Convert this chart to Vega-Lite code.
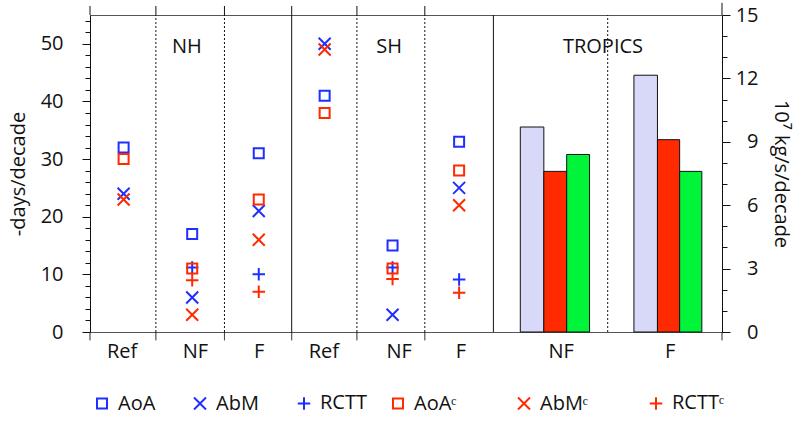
{
  "$schema": "https://vega.github.io/schema/vega-lite/v6.json",
  "width": 632,
  "height": 317,
  "autosize": "none",
  "padding": {"left": 90, "top": 15, "right": 73, "bottom": 89},
  "config": {
    "font": "Open Sans",
    "view": {"stroke": "#555", "strokeWidth": 1},
    "axis": {"domainColor": "#111", "tickColor": "#111", "labelColor": "#111", "titleColor": "#111", "labelFontSize": 20, "titleFontSize": 20, "titleFontWeight": "normal", "grid": false, "labelFont": "Open Sans", "titleFont": "Open Sans"},
    "legend": {"labelFont": "Open Sans"}
  },
  "datasets": {
    "pts": [
      {"g": 0.5, "v": 32, "s": "AoA"},
      {"g": 0.5, "v": 30, "s": "AoAᶜ"},
      {"g": 0.5, "v": 24, "s": "AbM"},
      {"g": 0.5, "v": 23, "s": "AbMᶜ"},
      {"g": 1.52, "v": 17, "s": "AoA"},
      {"g": 1.52, "v": 11, "s": "AoAᶜ"},
      {"g": 1.52, "v": 11.2, "s": "RCTT"},
      {"g": 1.52, "v": 9, "s": "RCTTᶜ"},
      {"g": 1.52, "v": 6, "s": "AbM"},
      {"g": 1.52, "v": 3, "s": "AbMᶜ"},
      {"g": 2.51, "v": 31, "s": "AoA"},
      {"g": 2.51, "v": 23, "s": "AoAᶜ"},
      {"g": 2.51, "v": 21, "s": "AbM"},
      {"g": 2.51, "v": 16, "s": "AbMᶜ"},
      {"g": 2.51, "v": 10, "s": "RCTT"},
      {"g": 2.51, "v": 7, "s": "RCTTᶜ"},
      {"g": 3.49, "v": 50, "s": "AbM"},
      {"g": 3.49, "v": 49, "s": "AbMᶜ"},
      {"g": 3.49, "v": 41, "s": "AoA"},
      {"g": 3.49, "v": 38, "s": "AoAᶜ"},
      {"g": 4.5, "v": 15, "s": "AoA"},
      {"g": 4.5, "v": 11, "s": "AoAᶜ"},
      {"g": 4.5, "v": 11.2, "s": "RCTT"},
      {"g": 4.5, "v": 9.2, "s": "RCTTᶜ"},
      {"g": 4.5, "v": 3, "s": "AbM"},
      {"g": 5.49, "v": 33, "s": "AoA"},
      {"g": 5.49, "v": 28, "s": "AoAᶜ"},
      {"g": 5.49, "v": 25, "s": "AbM"},
      {"g": 5.49, "v": 22, "s": "AbMᶜ"},
      {"g": 5.49, "v": 9.1, "s": "RCTT"},
      {"g": 5.49, "v": 6.8, "s": "RCTTᶜ"}
    ],
    "bars": [
      {"x0": 6.40, "x1": 6.75, "v": 9.70, "k": "1"},
      {"x0": 6.75, "x1": 7.09, "v": 7.60, "k": "2"},
      {"x0": 7.09, "x1": 7.43, "v": 8.40, "k": "3"},
      {"x0": 8.09, "x1": 8.44, "v": 12.15, "k": "1"},
      {"x0": 8.44, "x1": 8.77, "v": 9.10, "k": "2"},
      {"x0": 8.77, "x1": 9.10, "v": 7.60, "k": "3"}
    ],
    "lines": [
      {"x": 0.98, "y0": 0, "y1": 55, "ls": "dot"},
      {"x": 2.0, "y0": 0, "y1": 55, "ls": "dot"},
      {"x": 3.0, "y0": 0, "y1": 55, "ls": "solid"},
      {"x": 3.97, "y0": 0, "y1": 55, "ls": "dot"},
      {"x": 4.98, "y0": 0, "y1": 55, "ls": "dot"},
      {"x": 6.0, "y0": 0, "y1": 55, "ls": "solid"},
      {"x": 7.7, "y0": 0, "y1": 55, "ls": "dot"},
      {"x": 0, "y0": 55, "y1": 56.56, "ls": "solid"},
      {"x": 0.98, "y0": 55, "y1": 56.56, "ls": "solid"},
      {"x": 2.0, "y0": 55, "y1": 56.56, "ls": "solid"},
      {"x": 3.0, "y0": 55, "y1": 56.56, "ls": "solid"},
      {"x": 3.97, "y0": 55, "y1": 56.56, "ls": "solid"},
      {"x": 4.98, "y0": 55, "y1": 56.56, "ls": "solid"},
      {"x": 9.4, "y0": 55, "y1": 57.1, "ls": "solid"},
      {"x": 0, "y0": -1.45, "y1": 0, "ls": "solid"},
      {"x": 0.98, "y0": -1.45, "y1": 0, "ls": "solid"},
      {"x": 2.0, "y0": -1.45, "y1": 0, "ls": "solid"},
      {"x": 3.0, "y0": -1.45, "y1": 0, "ls": "solid"},
      {"x": 3.97, "y0": -1.45, "y1": 0, "ls": "solid"},
      {"x": 4.98, "y0": -1.45, "y1": 0, "ls": "solid"},
      {"x": 9.4, "y0": -1.45, "y1": 0, "ls": "solid"}
    ],
    "labels": [
      {"x": 1.44, "y": 49.4, "t": "NH"},
      {"x": 4.45, "y": 49.4, "t": "SH"},
      {"x": 7.63, "y": 49.4, "t": "TROPICS"}
    ]
  },
  "layer": [
    {
      "data": {"name": "lines"},
      "mark": {"type": "rule", "color": "#111", "strokeWidth": 1, "clip": false},
      "encoding": {
        "x": {"field": "x", "type": "quantitative", "scale": {"domain": [0, 9.4], "nice": false, "zero": false},
          "axis": {"orient": "bottom", "title": null, "values": [0.47, 1.56, 2.51, 3.47, 4.59, 5.51, 7.0, 8.62], "ticks": false, "domain": false, "labelPadding": 9, "labelFlush": false, "labelOverlap": false,
            "labelExpr": "datum.value < 1 ? 'Ref' : datum.value < 2 ? 'NF' : datum.value < 3 ? 'F' : datum.value < 4 ? 'Ref' : datum.value < 5 ? 'NF' : datum.value < 6 ? 'F' : datum.value < 7.7 ? 'NF' : 'F'"}},
        "y": {"field": "y0", "type": "quantitative", "scale": {"domain": [0, 55], "nice": false}, "axis": null},
        "y2": {"field": "y1"},
        "strokeDash": {"field": "ls", "type": "nominal", "scale": {"domain": ["solid", "dot"], "range": [[1, 0], [2, 2]]}, "legend": null}
      }
    },
    {
      "data": {"name": "bars"},
      "mark": {"type": "bar", "stroke": "#111", "strokeWidth": 1, "opacity": 1},
      "encoding": {
        "x": {"field": "x0", "type": "quantitative", "scale": {"domain": [0, 9.4], "nice": false, "zero": false},
          "axis": {"orient": "bottom", "title": null, "values": [0.47, 1.56, 2.51, 3.47, 4.59, 5.51, 7.0, 8.62], "ticks": false, "domain": false, "labelPadding": 9, "labelFlush": false, "labelOverlap": false,
            "labelExpr": "datum.value < 1 ? 'Ref' : datum.value < 2 ? 'NF' : datum.value < 3 ? 'F' : datum.value < 4 ? 'Ref' : datum.value < 5 ? 'NF' : datum.value < 6 ? 'F' : datum.value < 7.7 ? 'NF' : 'F'"}},
        "x2": {"field": "x1"},
        "y": {"field": "v", "type": "quantitative", "scale": {"domain": [0, 15], "nice": false},
          "axis": {"orient": "right", "title": "10⁷ kg/s/decade", "values": [0, 1, 2, 3, 4, 5, 6, 7, 8, 9, 10, 11, 12, 13, 14, 15],
            "tickSize": {"condition": {"test": "datum.value % 3 === 0", "value": 8}, "value": 5},
            "labelExpr": "datum.value % 3 === 0 ? datum.label : ''", "labelAlign": "right", "labelPadding": 28, "titlePadding": 12, "labelOverlap": false}},
        "y2": {"datum": 0},
        "fill": {"field": "k", "type": "nominal", "scale": {"domain": ["1", "2", "3"], "range": ["#d8d8f8", "#ff2a00", "#00f53a"]}, "legend": null}
      }
    },
    {
      "data": {"name": "pts"},
      "transform": [{"filter": "indexof(['AoA', 'AbM', 'RCTT'], datum.s) >= 0"}],
      "mark": {"type": "point", "filled": false, "strokeWidth": 2, "size": 100, "opacity": 1},
      "encoding": {
        "x": {"field": "g", "type": "quantitative", "scale": {"domain": [0, 9.4], "nice": false, "zero": false},
          "axis": {"orient": "bottom", "title": null, "values": [0.47, 1.56, 2.51, 3.47, 4.59, 5.51, 7.0, 8.62], "ticks": false, "domain": false, "labelPadding": 9, "labelFlush": false, "labelOverlap": false,
            "labelExpr": "datum.value < 1 ? 'Ref' : datum.value < 2 ? 'NF' : datum.value < 3 ? 'F' : datum.value < 4 ? 'Ref' : datum.value < 5 ? 'NF' : datum.value < 6 ? 'F' : datum.value < 7.7 ? 'NF' : 'F'"}},
        "y": {"field": "v", "type": "quantitative", "scale": {"domain": [0, 55], "nice": false},
          "axis": {"orient": "left", "title": "-days/decade", "values": [0, 2, 4, 6, 8, 10, 12, 14, 16, 18, 20, 22, 24, 26, 28, 30, 32, 34, 36, 38, 40, 42, 44, 46, 48, 50, 52, 54],
            "tickSize": {"condition": {"test": "datum.value % 10 === 0", "value": 8}, "value": 5},
            "labelExpr": "datum.value % 10 === 0 ? datum.label : ''", "labelPadding": 19, "titlePadding": 12, "labelOverlap": false}},
        "color": {"field": "s", "type": "nominal", "scale": {"domain": ["AoA", "AbM", "RCTT"], "range": ["#1f2fff", "#1f2fff", "#1f2fff"]},
          "legend": {"orient": "none", "legendX": 2, "legendY": 378, "direction": "horizontal", "columns": 3, "title": null, "labelFontSize": 20, "symbolSize": 100, "symbolStrokeWidth": 2, "symbolFillColor": "transparent", "labelOffset": 6, "columnPadding": 34, "labelColor": "#111"}},
        "shape": {"field": "s", "type": "nominal", "scale": {"domain": ["AoA", "AbM", "RCTT"], "range": ["square", "M-1.2,-1.2L1.2,1.2M-1.2,1.2L1.2,-1.2", "M-1.25,0L1.25,0M0,-1.25L0,1.25"]},
          "legend": {"orient": "none", "legendX": 2, "legendY": 378, "direction": "horizontal", "columns": 3, "title": null, "labelFontSize": 20, "symbolSize": 100, "symbolStrokeWidth": 2, "symbolFillColor": "transparent", "labelOffset": 6, "columnPadding": 34, "labelColor": "#111"}}
      }
    },
    {
      "data": {"name": "pts"},
      "transform": [{"filter": "indexof(['AoAᶜ', 'AbMᶜ', 'RCTTᶜ'], datum.s) >= 0"}],
      "mark": {"type": "point", "filled": false, "strokeWidth": 2, "size": 100, "opacity": 1},
      "encoding": {
        "x": {"field": "g", "type": "quantitative", "scale": {"domain": [0, 9.4], "nice": false, "zero": false},
          "axis": {"orient": "bottom", "title": null, "values": [0.47, 1.56, 2.51, 3.47, 4.59, 5.51, 7.0, 8.62], "ticks": false, "domain": false, "labelPadding": 9, "labelFlush": false, "labelOverlap": false,
            "labelExpr": "datum.value < 1 ? 'Ref' : datum.value < 2 ? 'NF' : datum.value < 3 ? 'F' : datum.value < 4 ? 'Ref' : datum.value < 5 ? 'NF' : datum.value < 6 ? 'F' : datum.value < 7.7 ? 'NF' : 'F'"}},
        "y": {"field": "v", "type": "quantitative", "scale": {"domain": [0, 55], "nice": false}, "axis": null},
        "color": {"field": "s", "type": "nominal", "scale": {"domain": ["AoAᶜ", "AbMᶜ", "RCTTᶜ"], "range": ["#ff2a00", "#ff2a00", "#ff2a00"]},
          "legend": {"orient": "none", "legendX": 298, "legendY": 378, "direction": "horizontal", "columns": 3, "title": null, "labelFontSize": 20, "symbolSize": 100, "symbolStrokeWidth": 2, "symbolFillColor": "transparent", "labelOffset": 6, "columnPadding": 57, "labelColor": "#111"}},
        "shape": {"field": "s", "type": "nominal", "scale": {"domain": ["AoAᶜ", "AbMᶜ", "RCTTᶜ"], "range": ["square", "M-1.2,-1.2L1.2,1.2M-1.2,1.2L1.2,-1.2", "M-1.25,0L1.25,0M0,-1.25L0,1.25"]},
          "legend": {"orient": "none", "legendX": 298, "legendY": 378, "direction": "horizontal", "columns": 3, "title": null, "labelFontSize": 20, "symbolSize": 100, "symbolStrokeWidth": 2, "symbolFillColor": "transparent", "labelOffset": 6, "columnPadding": 57, "labelColor": "#111"}}
      }
    },
    {
      "data": {"name": "labels"},
      "mark": {"type": "text", "fontSize": 20, "baseline": "middle", "align": "center", "color": "#111"},
      "encoding": {
        "x": {"field": "x", "type": "quantitative", "scale": {"domain": [0, 9.4], "nice": false, "zero": false},
          "axis": {"orient": "bottom", "title": null, "values": [0.47, 1.56, 2.51, 3.47, 4.59, 5.51, 7.0, 8.62], "ticks": false, "domain": false, "labelPadding": 9, "labelFlush": false, "labelOverlap": false,
            "labelExpr": "datum.value < 1 ? 'Ref' : datum.value < 2 ? 'NF' : datum.value < 3 ? 'F' : datum.value < 4 ? 'Ref' : datum.value < 5 ? 'NF' : datum.value < 6 ? 'F' : datum.value < 7.7 ? 'NF' : 'F'"}},
        "y": {"field": "y", "type": "quantitative", "scale": {"domain": [0, 55], "nice": false}, "axis": null},
        "text": {"field": "t"}
      }
    }
  ],
  "resolve": {"scale": {"y": "independent", "color": "independent", "shape": "independent"}, "axis": {"y": "independent"}}
}
